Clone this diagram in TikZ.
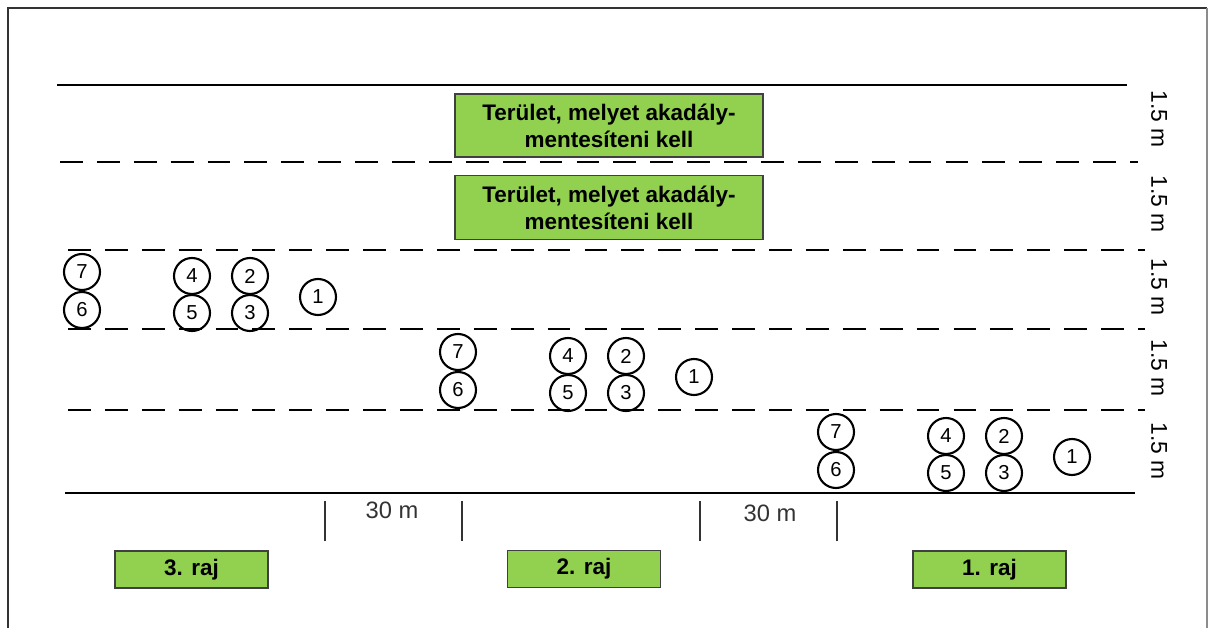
\documentclass[tikz,border=0pt]{standalone}
\usepackage{fontspec}
\setmainfont{Liberation Sans}
\definecolor{zold}{HTML}{92D050}
\tikzset{
  sor/.style={line width=1.6pt, dash pattern=on 13pt off 8pt},
  ember/.style={circle, draw, line width=1.2pt, minimum size=0.72cm, inner sep=0pt, font=\fontsize{11.5}{12}\selectfont},
  zoldbox/.style={draw=black!75, fill=zold, line width=0.8pt, inner sep=0pt, align=center, font=\bfseries\fontsize{12.8}{15.5}\selectfont},
  meret/.style={font=\fontsize{13}{16}\selectfont, rotate=-90}
}
\begin{document}
\begin{tikzpicture}[x=0.02cm, y=-0.02cm]
	\useasboundingbox (0,0) rectangle (1209,628);
	\draw[line width=1.5pt, black!80] (8,628) -- (8,8) -- (1207,8);
	\draw[line width=1pt, black!45] (1207,8) -- (1207,628);
	% savok
	\draw[line width=1.5pt] (57,85) -- (1127,85);
	\draw[sor] (60,162) -- (1138,162);
	\draw[sor] (68,250) -- (1145,250);
	\draw[sor] (68,329) -- (1145,329);
	\draw[sor] (68,410) -- (1145,410);
	\draw[line width=1.5pt] (65,493) -- (1135,493);
	\node[zoldbox, minimum width=6.16cm, minimum height=1.26cm] (ter1) at (609,125.5) {Terület, melyet akadály-\\mentesíteni kell};
	\node[zoldbox, minimum width=6.16cm, minimum height=1.28cm] (ter2) at (609,207.5) {Terület, melyet akadály-\\mentesíteni kell};
	\foreach \i/\y in {1/119, 2/204, 3/287, 4/368, 5/451}
		\node[meret] (m\i) at (1159,\y) {1.5 m};
	% rajok
	\foreach \g/\dx/\dy in {3/0/0, 2/376/80, 1/754/160} {
		\node[ember] (r\g-7) at (82+\dx,272+\dy) {7};
		\node[ember] (r\g-6) at (82+\dx,310+\dy) {6};
		\node[ember] (r\g-4) at (192+\dx,276+\dy) {4};
		\node[ember] (r\g-5) at (192+\dx,313+\dy) {5};
		\node[ember] (r\g-2) at (250+\dx,276+\dy) {2};
		\node[ember] (r\g-3) at (250+\dx,313+\dy) {3};
		\node[ember] (r\g-1) at (318+\dx,297+\dy) {1};
	}
	% tavolsag
	\foreach \x in {325, 462, 700, 837}
		\draw[line width=1.5pt, black!80] (\x,501) -- (\x,541);
	\node[font=\fontsize{13.5}{16}\selectfont, text=black!80] (tav1) at (392,510) {30 m};
	\node[font=\fontsize{13.5}{16}\selectfont, text=black!80] (tav2) at (770,513) {30 m};
	\node[zoldbox, minimum width=3.06cm, minimum height=0.74cm] (raj3) at (191.5,569.5) {3. raj};
	\node[zoldbox, minimum width=3.06cm, minimum height=0.74cm] (raj2) at (584,569) {2. raj};
	\node[zoldbox, minimum width=3.06cm, minimum height=0.74cm] (raj1) at (989.5,569.5) {1. raj};
\end{tikzpicture}
\end{document}
